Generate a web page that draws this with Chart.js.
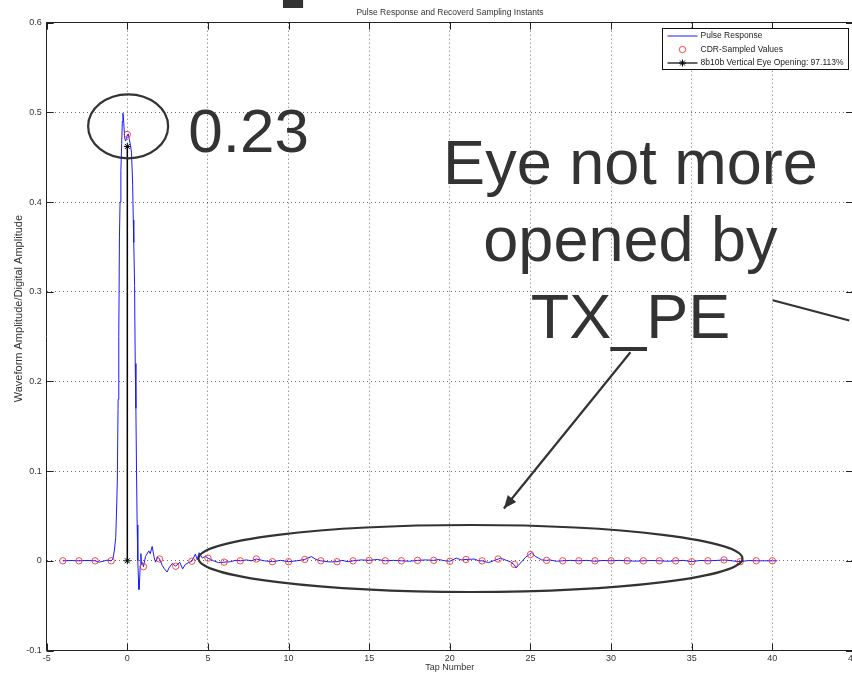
<!DOCTYPE html>
<html>
<head>
<meta charset="utf-8">
<script src="https://cdn.jsdelivr.net/npm/chart.js@4/dist/chart.umd.min.js"></script>
<style>
  html, body { margin: 0; padding: 0; overflow: hidden; background: #fff; width: 852px; height: 676px; }
  #wrap { position: absolute; left: 0; top: 0; width: 900px; height: 676px; }
</style>
</head>
<body>
<div id="wrap"><canvas id="c" width="900" height="676"></canvas></div>
<script>
// Pulse response waveform (tap units vs amplitude)
const pulseX = [
  -4.0, -3.5, -3.0, -2.5, -2.0, -1.75, -1.5, -1.25, -1.0, -0.9, -0.8, -0.72, -0.66, -0.62, -0.57, -0.53, -0.49, -0.45, -0.4, -0.35,
  -0.31, -0.27, -0.22, -0.17, -0.11, -0.05, 0.0, 0.06, 0.12, 0.2, 0.26, 0.33, 0.37, 0.4, 0.45, 0.49, 0.53, 0.57, 0.61, 0.65,
  0.69, 0.72, 0.76, 0.8, 0.84, 0.88, 0.94, 1.0, 1.13, 1.33, 1.42, 1.54, 1.66, 1.75, 1.89, 2.0, 2.16, 2.3, 2.47, 2.58,
  2.78, 3.0, 3.25, 3.43, 3.6, 3.8, 4.0, 4.22, 4.34, 4.45, 4.65, 4.85, 5.0, 5.35, 5.66, 6.0, 6.4, 6.7, 7.0, 7.4,
  7.7, 8.0, 8.5, 9.0, 9.5, 10.0, 10.5, 11.0, 11.42, 11.7, 12.0, 12.5, 13.0, 13.3, 13.7, 14.0, 14.5, 15.0, 15.5, 16.0,
  16.5, 17.0, 17.5, 18.0, 18.5, 19.0, 19.3, 19.7, 20.0, 20.4, 20.7, 21.0, 21.5, 21.8, 22.0, 22.4, 22.7, 23.0, 23.15, 23.5,
  23.75, 24.0, 24.1, 24.25, 24.5, 24.7, 24.95, 25.05, 25.3, 25.5, 25.7, 26.0, 26.2, 26.6, 27.0, 27.5, 28.0, 28.5, 29.0, 29.5,
  30.0, 30.5, 31.0, 31.5, 32.0, 32.5, 33.0, 33.5, 34.0, 34.5, 35.0, 35.5, 36.0, 36.5, 37.0, 37.5, 38.0, 38.5, 39.0, 39.5,
  40.0, 40.3
];
const pulseY = [
  0, 0.0003, 0, 0.0004, 0, -0.0015, -0.0005, 0.0008, 0, 0.002, 0.012, 0.026, 0.06, 0.09, 0.18, 0.25, 0.36, 0.4, 0.435, 0.465,
  0.49, 0.499, 0.488, 0.472, 0.468, 0.471, 0.475, 0.476, 0.47, 0.463, 0.455, 0.42, 0.38, 0.355, 0.307, 0.22, 0.17, 0.1, 0.04, 0.0,
  -0.02, -0.032, -0.022, -0.005, 0.008, -0.004, -0.002, -0.0065, 0.005, 0.011, 0.008, 0.016, 0.004, -0.0015, 0.004, 0.002, -0.005, -0.009, -0.0125, -0.008,
  -0.003, -0.006, -0.0015, -0.009, -0.004, -0.002, -0.0005, 0.0075, 0.001, 0.009, 0.003, 0.005, 0.003, 0.0, -0.002, -0.0015, -0.001, 0.0005, 0, 0.001,
  0.0, 0.002, 0.0, -0.001, 0.0005, -0.001, 0.0, 0.0015, 0.0047, 0.0015, 0, -0.0012, -0.001, 0.0005, -0.001, 0, 0.001, 0.0005, 0.0015, 0,
  0.0005, 0, -0.0005, 0.0005, 0.001, 0.0005, 0.0015, 0, -0.0005, 0.003, 0.001, 0.0015, 0.002, 0.0, 0, -0.002, 0.0, 0.002, 0.003, 0.0005,
  -0.001, -0.0045, -0.008, -0.005, 0.0, 0.004, 0.0075, 0.009, 0.005, 0.003, 0.001, 0.0005, 0.001, -0.0005, 0, 0.0005, 0, 0.0005, -0.0005, 0.0004,
  0, 0.0005, 0, -0.0004, 0, 0.0004, 0, -0.0005, 0, 0.0005, -0.001, 0.0004, 0, 0.0004, 0.001, 0, -0.001, 0.0003, 0, 0.0,
  0, 0
];

// Values taken by the CDR at each tap
const tapNumbers = [
  -4, -3, -2, -1, 0, 1, 2, 3, 4, 5, 6, 7, 8, 9, 10, 11, 12, 13, 14, 15, 16, 17, 18,
  19, 20, 21, 22, 23, 24, 25, 26, 27, 28, 29, 30, 31, 32, 33, 34, 35, 36, 37, 38, 39, 40
];
const sampledValues = [
  0, 0, 0, 0, 0.4754, -0.0065, 0.002, -0.006, -0.0005, 0.003, -0.0015, 0, 0.002, -0.001, -0.001, 0.0015, 0, -0.001, 0, 0.0005, 0, 0, 0.0005,
  0.0005, -0.0005, 0.0015, 0, 0.002, -0.004, 0.007, 0.0005, 0, 0, 0, 0, 0, 0, 0, 0, -0.001, 0, 0.001, -0.001, 0, 0
];

// Vertical eye opening marker at the main cursor
const eyeX = [0, 0];
const eyeY = [0, 0.462];

const xTicks = [-5, 0, 5, 10, 15, 20, 25, 30, 35, 40, 45];
const yTicks = [-0.1, 0, 0.1, 0.2, 0.3, 0.4, 0.5, 0.6];

const seriesNames = ['Pulse Response', 'CDR-Sampled Values', '8b10b Vertical Eye Opening: 97.113%'];
const chartTitle = 'Pulse Response and Recoverd Sampling Instants';
const xTitle = 'Tap Number';
const yTitle = 'Waveform Amplitude/Digital Amplitude';

const FONT = "'Liberation Sans', Arial, Helvetica, sans-serif";
const INK = '#333333';

const toPoints = (xs, ys) => xs.map((x, i) => ({ x: x, y: ys[i] }));
const fixTicks = (values) => (scale) => { scale.ticks = values.map(v => ({ value: v })); };

// Inward tick marks on the axes box
const inwardTicks = {
  id: 'inwardTicks',
  afterDatasetsDraw(chart) {
    const { ctx, chartArea: a, scales } = chart;
    ctx.save();
    ctx.strokeStyle = '#222';
    ctx.lineWidth = 1;
    ctx.beginPath();
    scales.x.ticks.forEach(t => {
      const px = Math.round(scales.x.getPixelForValue(t.value)) + 0.5;
      ctx.moveTo(px, a.bottom); ctx.lineTo(px, a.bottom - 7);
      ctx.moveTo(px, a.top); ctx.lineTo(px, a.top + 7);
    });
    scales.y.ticks.forEach(t => {
      const py = Math.round(scales.y.getPixelForValue(t.value)) + 0.5;
      ctx.moveTo(a.left, py); ctx.lineTo(a.left + 7, py);
      ctx.moveTo(a.right, py); ctx.lineTo(a.right - 7, py);
    });
    ctx.stroke();
    ctx.restore();
  }
};

// Legend box in the upper right corner of the axes
const boxLegend = {
  id: 'boxLegend',
  afterDraw(chart) {
    const { ctx, chartArea: a } = chart;
    const w = 186, h = 41;
    const x0 = Math.round(a.right - 5 - w) + 0.5, y0 = Math.round(a.top + 5) + 0.5;
    ctx.save();
    ctx.fillStyle = '#fff';
    ctx.fillRect(x0, y0, w, h);
    ctx.strokeStyle = '#111';
    ctx.lineWidth = 1;
    ctx.strokeRect(x0, y0, w, h);
    ctx.font = '8.5px ' + FONT;
    ctx.textBaseline = 'middle';
    const rowY = [y0 + 7.5, y0 + 21, y0 + 34.5];
    const sx0 = x0 + 5, sx1 = x0 + 35, tx = x0 + 38;
    chart.data.datasets.forEach((ds, i) => {
      const yy = rowY[i];
      if (ds.showLine !== false) {
        ctx.strokeStyle = ds.borderColor;
        ctx.lineWidth = Math.min(ds.borderWidth, 1.2);
        ctx.beginPath(); ctx.moveTo(sx0, yy); ctx.lineTo(sx1, yy); ctx.stroke();
      }
      if (ds.pointRadius > 0) {
        ctx.fillStyle = ds.pointBackgroundColor;
        ctx.strokeStyle = ds.pointBorderColor;
        ctx.lineWidth = ds.pointBorderWidth;
        Chart.helpers.drawPoint(ctx, {
          pointStyle: ds.pointStyle, radius: ds.pointRadius, borderWidth: ds.pointBorderWidth, rotation: 0
        }, (sx0 + sx1) / 2, yy);
      }
      ctx.fillStyle = '#222';
      ctx.fillText(ds.label, tx, yy);
    });
    ctx.restore();
  }
};

// Rotated y-axis label
const sideLabel = {
  id: 'sideLabel',
  afterDraw(chart) {
    const { ctx, chartArea: a } = chart;
    ctx.save();
    ctx.translate(19, (a.top + a.bottom) / 2 - 28);
    ctx.rotate(-Math.PI / 2);
    ctx.font = '11px ' + FONT;
    ctx.fillStyle = INK;
    ctx.textAlign = 'center';
    ctx.textBaseline = 'middle';
    ctx.fillText(yTitle, 0, 0);
    ctx.restore();
  }
};

// Notes placed over the plot, positioned in data units
const notes = {
  id: 'notes',
  afterDraw(chart) {
    const { ctx, scales: { x, y } } = chart;
    const X = v => x.getPixelForValue(v), Y = v => y.getPixelForValue(v);
    ctx.save();
    ctx.strokeStyle = '#333';
    ctx.fillStyle = '#333';
    ctx.lineWidth = 2.2;

    // small bar above the axes
    ctx.fillRect(X(9.65), 0, X(10.9) - X(9.65), Y(0.6164));

    // ring around the main cursor
    ctx.beginPath();
    ctx.ellipse(X(0.05), Y(0.4845), 40, 32, 0, 0, Math.PI * 2);
    ctx.stroke();

    // ring around the post-cursor taps
    ctx.beginPath();
    ctx.ellipse(X(21.28), Y(0.0026), 272, 33.5, 0, 0, Math.PI * 2);
    ctx.stroke();

    ctx.font = '62px ' + FONT;
    ctx.textBaseline = 'alphabetic';
    ctx.textAlign = 'left';
    ctx.fillText('0.23', X(3.78), Y(0.4556));

    ctx.font = '63px ' + FONT;
    ctx.textAlign = 'center';
    ctx.fillText('Eye not more', X(31.2), Y(0.42));
    ctx.fillText('opened by', X(31.2), Y(0.334));
    ctx.fillText('TX_PE', X(31.2), Y(0.248));

    // arrow toward the ringed taps
    const ax0 = X(31.2), ay0 = Y(0.2325), ax1 = X(23.35), ay1 = Y(0.0583);
    ctx.beginPath(); ctx.moveTo(ax0, ay0); ctx.lineTo(ax1, ay1); ctx.stroke();
    const ang = Math.atan2(ay1 - ay0, ax1 - ax0), hl = 14;
    ctx.beginPath();
    ctx.moveTo(ax1, ay1);
    ctx.lineTo(ax1 - hl * Math.cos(ang - 0.4), ay1 - hl * Math.sin(ang - 0.4));
    ctx.lineTo(ax1 - hl * Math.cos(ang + 0.4), ay1 - hl * Math.sin(ang + 0.4));
    ctx.closePath();
    ctx.fill();

    // leader line running off to the right
    ctx.beginPath(); ctx.moveTo(X(40.02), Y(0.2905)); ctx.lineTo(X(44.77), Y(0.268)); ctx.stroke();
    ctx.restore();
  }
};

new Chart(document.getElementById('c'), {
  type: 'scatter',
  data: {
    datasets: [
      {
        label: seriesNames[0],
        data: toPoints(pulseX, pulseY),
        showLine: true,
        borderColor: '#1a1aff',
        borderWidth: 1,
        pointRadius: 0,
        tension: 0,
        order: 3
      },
      {
        label: seriesNames[1],
        data: toPoints(tapNumbers, sampledValues),
        showLine: false,
        pointStyle: 'circle',
        pointRadius: 3.2,
        pointBorderWidth: 1,
        pointBorderColor: 'rgba(255,40,40,0.85)',
        pointBackgroundColor: 'rgba(0,0,0,0)',
        borderColor: 'rgba(255,40,40,0.85)',
        backgroundColor: 'rgba(0,0,0,0)',
        order: 2
      },
      {
        label: seriesNames[2],
        data: toPoints(eyeX, eyeY),
        showLine: true,
        borderColor: '#000',
        borderWidth: 1.5,
        pointStyle: 'star',
        pointRadius: 3.5,
        pointBorderWidth: 1,
        pointBorderColor: '#000',
        pointBackgroundColor: '#000',
        order: 1
      }
    ]
  },
  options: {
    responsive: false,
    animation: false,
    devicePixelRatio: 1,
    layout: { padding: 0 },
    plugins: {
      legend: { display: false },
      tooltip: { enabled: false },
      title: {
        display: true,
        text: chartTitle,
        color: INK,
        font: { family: FONT, size: 8.5, weight: 'normal' },
        padding: { top: 8, bottom: 4.5 }
      }
    },
    scales: {
      x: {
        type: 'linear', position: 'bottom', min: -5, max: 45,
        afterBuildTicks: fixTicks(xTicks),
        afterFit: s => { s.height = 25.5; },
        ticks: { color: INK, font: { family: FONT, size: 9 }, padding: 3, maxRotation: 0, autoSkip: false },
        grid: { color: 'rgba(60,60,60,0.75)', lineWidth: 1, drawTicks: false },
        border: { display: true, color: '#222', width: 1, dash: [1, 3] },
        title: { display: true, text: xTitle, color: INK, font: { family: FONT, size: 9 }, padding: { top: 0, bottom: 2.6 } }
      },
      x2: {
        type: 'linear', position: 'top', min: -5, max: 45,
        afterFit: s => { s.height = 0; },
        ticks: { display: false },
        grid: { display: false, drawTicks: false },
        border: { display: true, color: '#222', width: 1 }
      },
      y: {
        type: 'linear', position: 'left', min: -0.1, max: 0.6,
        afterBuildTicks: fixTicks(yTicks),
        afterFit: s => { s.width = 46.7; },
        ticks: {
          color: INK, font: { family: FONT, size: 9 }, padding: 5, autoSkip: false,
          callback: v => String(Number(v.toFixed(1)))
        },
        grid: { color: 'rgba(60,60,60,0.75)', lineWidth: 1, drawTicks: false },
        border: { display: true, color: '#222', width: 1, dash: [1, 3] }
      },
      y2: {
        type: 'linear', position: 'right', min: -0.1, max: 0.6,
        afterFit: s => { s.width = 47; },
        ticks: { display: false },
        grid: { display: false, drawTicks: false },
        border: { display: true, color: '#222', width: 1 }
      }
    }
  },
  plugins: [inwardTicks, sideLabel, boxLegend, notes]
});
</script>
</body>
</html>
